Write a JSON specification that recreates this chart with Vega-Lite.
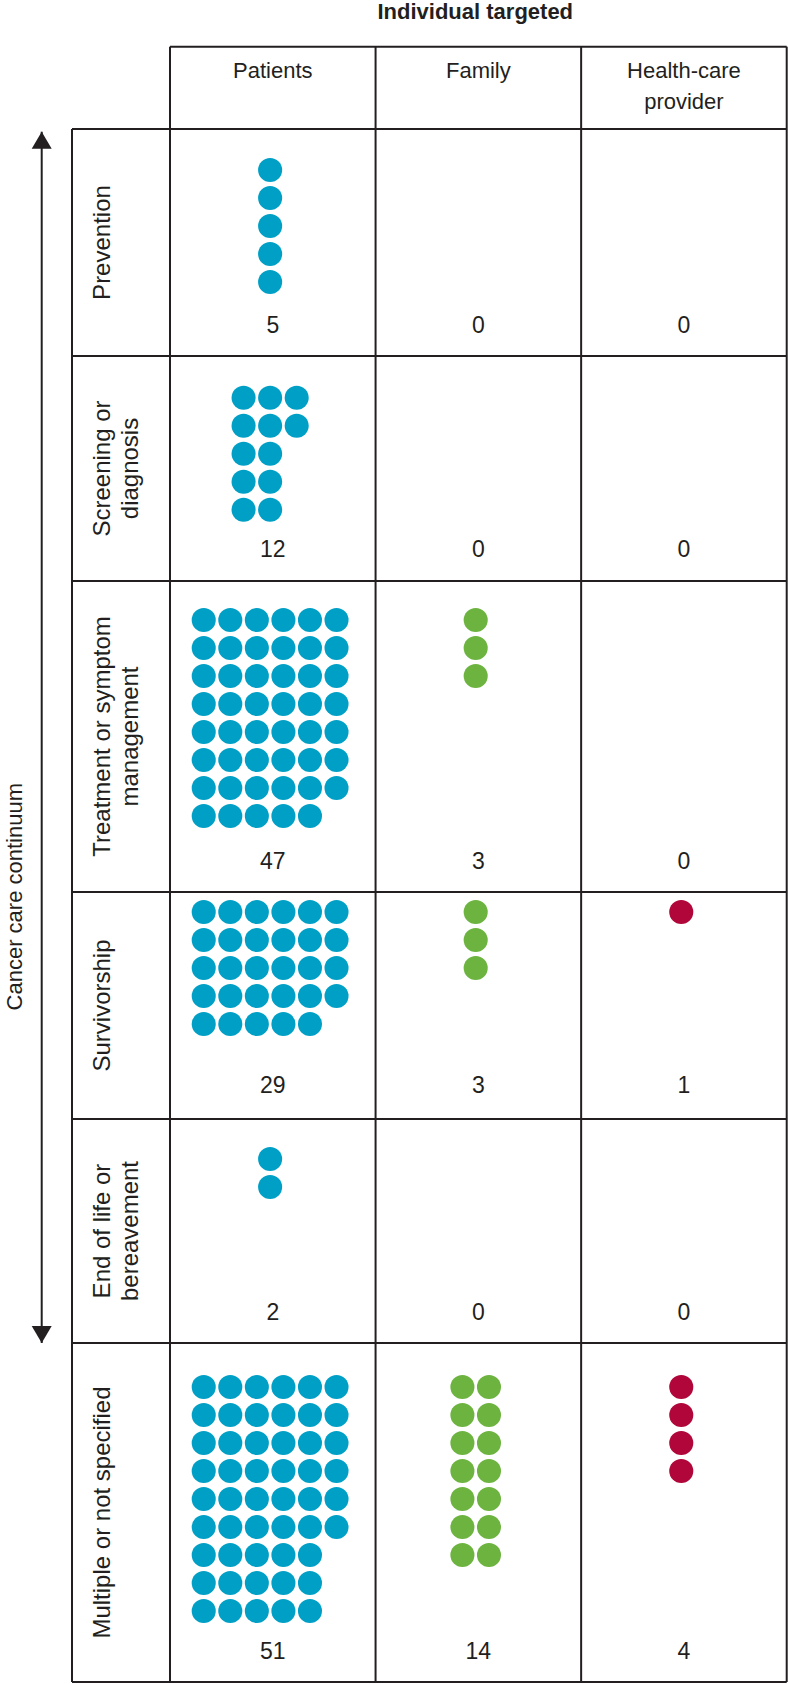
{
  "$schema": "https://vega.github.io/schema/vega-lite/v6.json",
  "padding": 0,
  "spacing": 0,
  "bounds": "flush",
  "background": "white",
  "config": {
    "view": {"stroke": null},
    "axis": {"disable": true},
    "legend": {"disable": true},
    "concat": {"spacing": 0},
    "text": {"font": "Liberation Sans", "color": "#231f20", "fontSize": 22},
    "rule": {"color": "#231f20", "strokeWidth": 2}
  },
  "datasets": {
    "targets": [{"target": "Patients"}, {"target": "Family"}, {"target": "Health-care provider"}],
    "counts": [
      {"stage": "Prevention", "target": "Patients", "n": 5},
      {"stage": "Prevention", "target": "Family", "n": 0},
      {"stage": "Prevention", "target": "Health-care provider", "n": 0},
      {"stage": "Screening or diagnosis", "target": "Patients", "n": 12},
      {"stage": "Screening or diagnosis", "target": "Family", "n": 0},
      {"stage": "Screening or diagnosis", "target": "Health-care provider", "n": 0},
      {"stage": "Treatment or symptom management", "target": "Patients", "n": 47},
      {"stage": "Treatment or symptom management", "target": "Family", "n": 3},
      {"stage": "Treatment or symptom management", "target": "Health-care provider", "n": 0},
      {"stage": "Survivorship", "target": "Patients", "n": 29},
      {"stage": "Survivorship", "target": "Family", "n": 3},
      {"stage": "Survivorship", "target": "Health-care provider", "n": 1},
      {"stage": "End of life or bereavement", "target": "Patients", "n": 2},
      {"stage": "End of life or bereavement", "target": "Family", "n": 0},
      {"stage": "End of life or bereavement", "target": "Health-care provider", "n": 0},
      {"stage": "Multiple or not specified", "target": "Patients", "n": 51},
      {"stage": "Multiple or not specified", "target": "Family", "n": 14},
      {"stage": "Multiple or not specified", "target": "Health-care provider", "n": 4}
    ],
    "dots": [
      {"stage": "Prevention", "target": "Patients", "col": 0, "row": 0},
      {"stage": "Prevention", "target": "Patients", "col": 0, "row": 1},
      {"stage": "Prevention", "target": "Patients", "col": 0, "row": 2},
      {"stage": "Prevention", "target": "Patients", "col": 0, "row": 3},
      {"stage": "Prevention", "target": "Patients", "col": 0, "row": 4},

      {"stage": "Screening or diagnosis", "target": "Patients", "col": -1, "row": 0},
      {"stage": "Screening or diagnosis", "target": "Patients", "col": 0, "row": 0},
      {"stage": "Screening or diagnosis", "target": "Patients", "col": 1, "row": 0},
      {"stage": "Screening or diagnosis", "target": "Patients", "col": -1, "row": 1},
      {"stage": "Screening or diagnosis", "target": "Patients", "col": 0, "row": 1},
      {"stage": "Screening or diagnosis", "target": "Patients", "col": 1, "row": 1},
      {"stage": "Screening or diagnosis", "target": "Patients", "col": -1, "row": 2},
      {"stage": "Screening or diagnosis", "target": "Patients", "col": 0, "row": 2},
      {"stage": "Screening or diagnosis", "target": "Patients", "col": -1, "row": 3},
      {"stage": "Screening or diagnosis", "target": "Patients", "col": 0, "row": 3},
      {"stage": "Screening or diagnosis", "target": "Patients", "col": -1, "row": 4},
      {"stage": "Screening or diagnosis", "target": "Patients", "col": 0, "row": 4},

      {"stage": "Treatment or symptom management", "target": "Patients", "col": -2.5, "row": 0},
      {"stage": "Treatment or symptom management", "target": "Patients", "col": -1.5, "row": 0},
      {"stage": "Treatment or symptom management", "target": "Patients", "col": -0.5, "row": 0},
      {"stage": "Treatment or symptom management", "target": "Patients", "col": 0.5, "row": 0},
      {"stage": "Treatment or symptom management", "target": "Patients", "col": 1.5, "row": 0},
      {"stage": "Treatment or symptom management", "target": "Patients", "col": 2.5, "row": 0},
      {"stage": "Treatment or symptom management", "target": "Patients", "col": -2.5, "row": 1},
      {"stage": "Treatment or symptom management", "target": "Patients", "col": -1.5, "row": 1},
      {"stage": "Treatment or symptom management", "target": "Patients", "col": -0.5, "row": 1},
      {"stage": "Treatment or symptom management", "target": "Patients", "col": 0.5, "row": 1},
      {"stage": "Treatment or symptom management", "target": "Patients", "col": 1.5, "row": 1},
      {"stage": "Treatment or symptom management", "target": "Patients", "col": 2.5, "row": 1},
      {"stage": "Treatment or symptom management", "target": "Patients", "col": -2.5, "row": 2},
      {"stage": "Treatment or symptom management", "target": "Patients", "col": -1.5, "row": 2},
      {"stage": "Treatment or symptom management", "target": "Patients", "col": -0.5, "row": 2},
      {"stage": "Treatment or symptom management", "target": "Patients", "col": 0.5, "row": 2},
      {"stage": "Treatment or symptom management", "target": "Patients", "col": 1.5, "row": 2},
      {"stage": "Treatment or symptom management", "target": "Patients", "col": 2.5, "row": 2},
      {"stage": "Treatment or symptom management", "target": "Patients", "col": -2.5, "row": 3},
      {"stage": "Treatment or symptom management", "target": "Patients", "col": -1.5, "row": 3},
      {"stage": "Treatment or symptom management", "target": "Patients", "col": -0.5, "row": 3},
      {"stage": "Treatment or symptom management", "target": "Patients", "col": 0.5, "row": 3},
      {"stage": "Treatment or symptom management", "target": "Patients", "col": 1.5, "row": 3},
      {"stage": "Treatment or symptom management", "target": "Patients", "col": 2.5, "row": 3},
      {"stage": "Treatment or symptom management", "target": "Patients", "col": -2.5, "row": 4},
      {"stage": "Treatment or symptom management", "target": "Patients", "col": -1.5, "row": 4},
      {"stage": "Treatment or symptom management", "target": "Patients", "col": -0.5, "row": 4},
      {"stage": "Treatment or symptom management", "target": "Patients", "col": 0.5, "row": 4},
      {"stage": "Treatment or symptom management", "target": "Patients", "col": 1.5, "row": 4},
      {"stage": "Treatment or symptom management", "target": "Patients", "col": 2.5, "row": 4},
      {"stage": "Treatment or symptom management", "target": "Patients", "col": -2.5, "row": 5},
      {"stage": "Treatment or symptom management", "target": "Patients", "col": -1.5, "row": 5},
      {"stage": "Treatment or symptom management", "target": "Patients", "col": -0.5, "row": 5},
      {"stage": "Treatment or symptom management", "target": "Patients", "col": 0.5, "row": 5},
      {"stage": "Treatment or symptom management", "target": "Patients", "col": 1.5, "row": 5},
      {"stage": "Treatment or symptom management", "target": "Patients", "col": 2.5, "row": 5},
      {"stage": "Treatment or symptom management", "target": "Patients", "col": -2.5, "row": 6},
      {"stage": "Treatment or symptom management", "target": "Patients", "col": -1.5, "row": 6},
      {"stage": "Treatment or symptom management", "target": "Patients", "col": -0.5, "row": 6},
      {"stage": "Treatment or symptom management", "target": "Patients", "col": 0.5, "row": 6},
      {"stage": "Treatment or symptom management", "target": "Patients", "col": 1.5, "row": 6},
      {"stage": "Treatment or symptom management", "target": "Patients", "col": 2.5, "row": 6},
      {"stage": "Treatment or symptom management", "target": "Patients", "col": -2.5, "row": 7},
      {"stage": "Treatment or symptom management", "target": "Patients", "col": -1.5, "row": 7},
      {"stage": "Treatment or symptom management", "target": "Patients", "col": -0.5, "row": 7},
      {"stage": "Treatment or symptom management", "target": "Patients", "col": 0.5, "row": 7},
      {"stage": "Treatment or symptom management", "target": "Patients", "col": 1.5, "row": 7},
      {"stage": "Treatment or symptom management", "target": "Family", "col": 0, "row": 0},
      {"stage": "Treatment or symptom management", "target": "Family", "col": 0, "row": 1},
      {"stage": "Treatment or symptom management", "target": "Family", "col": 0, "row": 2},

      {"stage": "Survivorship", "target": "Patients", "col": -2.5, "row": 0},
      {"stage": "Survivorship", "target": "Patients", "col": -1.5, "row": 0},
      {"stage": "Survivorship", "target": "Patients", "col": -0.5, "row": 0},
      {"stage": "Survivorship", "target": "Patients", "col": 0.5, "row": 0},
      {"stage": "Survivorship", "target": "Patients", "col": 1.5, "row": 0},
      {"stage": "Survivorship", "target": "Patients", "col": 2.5, "row": 0},
      {"stage": "Survivorship", "target": "Patients", "col": -2.5, "row": 1},
      {"stage": "Survivorship", "target": "Patients", "col": -1.5, "row": 1},
      {"stage": "Survivorship", "target": "Patients", "col": -0.5, "row": 1},
      {"stage": "Survivorship", "target": "Patients", "col": 0.5, "row": 1},
      {"stage": "Survivorship", "target": "Patients", "col": 1.5, "row": 1},
      {"stage": "Survivorship", "target": "Patients", "col": 2.5, "row": 1},
      {"stage": "Survivorship", "target": "Patients", "col": -2.5, "row": 2},
      {"stage": "Survivorship", "target": "Patients", "col": -1.5, "row": 2},
      {"stage": "Survivorship", "target": "Patients", "col": -0.5, "row": 2},
      {"stage": "Survivorship", "target": "Patients", "col": 0.5, "row": 2},
      {"stage": "Survivorship", "target": "Patients", "col": 1.5, "row": 2},
      {"stage": "Survivorship", "target": "Patients", "col": 2.5, "row": 2},
      {"stage": "Survivorship", "target": "Patients", "col": -2.5, "row": 3},
      {"stage": "Survivorship", "target": "Patients", "col": -1.5, "row": 3},
      {"stage": "Survivorship", "target": "Patients", "col": -0.5, "row": 3},
      {"stage": "Survivorship", "target": "Patients", "col": 0.5, "row": 3},
      {"stage": "Survivorship", "target": "Patients", "col": 1.5, "row": 3},
      {"stage": "Survivorship", "target": "Patients", "col": 2.5, "row": 3},
      {"stage": "Survivorship", "target": "Patients", "col": -2.5, "row": 4},
      {"stage": "Survivorship", "target": "Patients", "col": -1.5, "row": 4},
      {"stage": "Survivorship", "target": "Patients", "col": -0.5, "row": 4},
      {"stage": "Survivorship", "target": "Patients", "col": 0.5, "row": 4},
      {"stage": "Survivorship", "target": "Patients", "col": 1.5, "row": 4},
      {"stage": "Survivorship", "target": "Family", "col": 0, "row": 0},
      {"stage": "Survivorship", "target": "Family", "col": 0, "row": 1},
      {"stage": "Survivorship", "target": "Family", "col": 0, "row": 2},
      {"stage": "Survivorship", "target": "Health-care provider", "col": 0, "row": 0},

      {"stage": "End of life or bereavement", "target": "Patients", "col": 0, "row": 0},
      {"stage": "End of life or bereavement", "target": "Patients", "col": 0, "row": 1},

      {"stage": "Multiple or not specified", "target": "Patients", "col": -2.5, "row": 0},
      {"stage": "Multiple or not specified", "target": "Patients", "col": -1.5, "row": 0},
      {"stage": "Multiple or not specified", "target": "Patients", "col": -0.5, "row": 0},
      {"stage": "Multiple or not specified", "target": "Patients", "col": 0.5, "row": 0},
      {"stage": "Multiple or not specified", "target": "Patients", "col": 1.5, "row": 0},
      {"stage": "Multiple or not specified", "target": "Patients", "col": 2.5, "row": 0},
      {"stage": "Multiple or not specified", "target": "Patients", "col": -2.5, "row": 1},
      {"stage": "Multiple or not specified", "target": "Patients", "col": -1.5, "row": 1},
      {"stage": "Multiple or not specified", "target": "Patients", "col": -0.5, "row": 1},
      {"stage": "Multiple or not specified", "target": "Patients", "col": 0.5, "row": 1},
      {"stage": "Multiple or not specified", "target": "Patients", "col": 1.5, "row": 1},
      {"stage": "Multiple or not specified", "target": "Patients", "col": 2.5, "row": 1},
      {"stage": "Multiple or not specified", "target": "Patients", "col": -2.5, "row": 2},
      {"stage": "Multiple or not specified", "target": "Patients", "col": -1.5, "row": 2},
      {"stage": "Multiple or not specified", "target": "Patients", "col": -0.5, "row": 2},
      {"stage": "Multiple or not specified", "target": "Patients", "col": 0.5, "row": 2},
      {"stage": "Multiple or not specified", "target": "Patients", "col": 1.5, "row": 2},
      {"stage": "Multiple or not specified", "target": "Patients", "col": 2.5, "row": 2},
      {"stage": "Multiple or not specified", "target": "Patients", "col": -2.5, "row": 3},
      {"stage": "Multiple or not specified", "target": "Patients", "col": -1.5, "row": 3},
      {"stage": "Multiple or not specified", "target": "Patients", "col": -0.5, "row": 3},
      {"stage": "Multiple or not specified", "target": "Patients", "col": 0.5, "row": 3},
      {"stage": "Multiple or not specified", "target": "Patients", "col": 1.5, "row": 3},
      {"stage": "Multiple or not specified", "target": "Patients", "col": 2.5, "row": 3},
      {"stage": "Multiple or not specified", "target": "Patients", "col": -2.5, "row": 4},
      {"stage": "Multiple or not specified", "target": "Patients", "col": -1.5, "row": 4},
      {"stage": "Multiple or not specified", "target": "Patients", "col": -0.5, "row": 4},
      {"stage": "Multiple or not specified", "target": "Patients", "col": 0.5, "row": 4},
      {"stage": "Multiple or not specified", "target": "Patients", "col": 1.5, "row": 4},
      {"stage": "Multiple or not specified", "target": "Patients", "col": 2.5, "row": 4},
      {"stage": "Multiple or not specified", "target": "Patients", "col": -2.5, "row": 5},
      {"stage": "Multiple or not specified", "target": "Patients", "col": -1.5, "row": 5},
      {"stage": "Multiple or not specified", "target": "Patients", "col": -0.5, "row": 5},
      {"stage": "Multiple or not specified", "target": "Patients", "col": 0.5, "row": 5},
      {"stage": "Multiple or not specified", "target": "Patients", "col": 1.5, "row": 5},
      {"stage": "Multiple or not specified", "target": "Patients", "col": 2.5, "row": 5},
      {"stage": "Multiple or not specified", "target": "Patients", "col": -2.5, "row": 6},
      {"stage": "Multiple or not specified", "target": "Patients", "col": -1.5, "row": 6},
      {"stage": "Multiple or not specified", "target": "Patients", "col": -0.5, "row": 6},
      {"stage": "Multiple or not specified", "target": "Patients", "col": 0.5, "row": 6},
      {"stage": "Multiple or not specified", "target": "Patients", "col": 1.5, "row": 6},
      {"stage": "Multiple or not specified", "target": "Patients", "col": -2.5, "row": 7},
      {"stage": "Multiple or not specified", "target": "Patients", "col": -1.5, "row": 7},
      {"stage": "Multiple or not specified", "target": "Patients", "col": -0.5, "row": 7},
      {"stage": "Multiple or not specified", "target": "Patients", "col": 0.5, "row": 7},
      {"stage": "Multiple or not specified", "target": "Patients", "col": 1.5, "row": 7},
      {"stage": "Multiple or not specified", "target": "Patients", "col": -2.5, "row": 8},
      {"stage": "Multiple or not specified", "target": "Patients", "col": -1.5, "row": 8},
      {"stage": "Multiple or not specified", "target": "Patients", "col": -0.5, "row": 8},
      {"stage": "Multiple or not specified", "target": "Patients", "col": 0.5, "row": 8},
      {"stage": "Multiple or not specified", "target": "Patients", "col": 1.5, "row": 8},
      {"stage": "Multiple or not specified", "target": "Family", "col": -0.5, "row": 0},
      {"stage": "Multiple or not specified", "target": "Family", "col": 0.5, "row": 0},
      {"stage": "Multiple or not specified", "target": "Family", "col": -0.5, "row": 1},
      {"stage": "Multiple or not specified", "target": "Family", "col": 0.5, "row": 1},
      {"stage": "Multiple or not specified", "target": "Family", "col": -0.5, "row": 2},
      {"stage": "Multiple or not specified", "target": "Family", "col": 0.5, "row": 2},
      {"stage": "Multiple or not specified", "target": "Family", "col": -0.5, "row": 3},
      {"stage": "Multiple or not specified", "target": "Family", "col": 0.5, "row": 3},
      {"stage": "Multiple or not specified", "target": "Family", "col": -0.5, "row": 4},
      {"stage": "Multiple or not specified", "target": "Family", "col": 0.5, "row": 4},
      {"stage": "Multiple or not specified", "target": "Family", "col": -0.5, "row": 5},
      {"stage": "Multiple or not specified", "target": "Family", "col": 0.5, "row": 5},
      {"stage": "Multiple or not specified", "target": "Family", "col": -0.5, "row": 6},
      {"stage": "Multiple or not specified", "target": "Family", "col": 0.5, "row": 6},
      {"stage": "Multiple or not specified", "target": "Health-care provider", "col": 0, "row": 0},
      {"stage": "Multiple or not specified", "target": "Health-care provider", "col": 0, "row": 1},
      {"stage": "Multiple or not specified", "target": "Health-care provider", "col": 0, "row": 2},
      {"stage": "Multiple or not specified", "target": "Health-care provider", "col": 0, "row": 3}
    ]
  },
  "vconcat": [
    {
      "width": 788, "height": 129,
      "data": {"values": [{}]},
      "resolve": {"scale": {"x": "independent"}},
      "layer": [
        {"mark": {"type": "text", "fontWeight": "bold", "align": "center", "baseline": "middle"},
         "encoding": {"x": {"datum": 1.485, "type": "quantitative", "scale": {"domain": [-0.82697, 3.00628], "nice": false, "zero": false}},
                      "y": {"datum": 0.42143, "type": "quantitative", "scale": {"domain": [0, 4.60714], "reverse": true, "nice": false, "zero": false}},
                      "text": {"value": "Individual targeted"}}},
        {"mark": "rule",
         "encoding": {"x": {"datum": 0, "type": "quantitative", "scale": {"domain": [-0.82697, 3.00628], "nice": false, "zero": false}},
                      "x2": {"datum": 3},
                      "y": {"datum": 1.66786, "type": "quantitative", "scale": {"domain": [0, 4.60714], "reverse": true, "nice": false, "zero": false}}}},
        {"mark": "rule",
         "encoding": {"x": {"datum": 0, "type": "quantitative", "scale": {"domain": [-0.82697, 3.00628], "nice": false, "zero": false}},
                      "y": {"datum": 1.66786, "type": "quantitative", "scale": {"domain": [0, 4.60714], "reverse": true, "nice": false, "zero": false}},
                      "y2": {"datum": 4.60714}}},
        {"mark": "rule",
         "encoding": {"x": {"datum": 1, "type": "quantitative", "scale": {"domain": [-0.82697, 3.00628], "nice": false, "zero": false}},
                      "y": {"datum": 1.66786, "type": "quantitative", "scale": {"domain": [0, 4.60714], "reverse": true, "nice": false, "zero": false}},
                      "y2": {"datum": 4.60714}}},
        {"mark": "rule",
         "encoding": {"x": {"datum": 2, "type": "quantitative", "scale": {"domain": [-0.82697, 3.00628], "nice": false, "zero": false}},
                      "y": {"datum": 1.66786, "type": "quantitative", "scale": {"domain": [0, 4.60714], "reverse": true, "nice": false, "zero": false}},
                      "y2": {"datum": 4.60714}}},
        {"mark": "rule",
         "encoding": {"x": {"datum": 3, "type": "quantitative", "scale": {"domain": [-0.82697, 3.00628], "nice": false, "zero": false}},
                      "y": {"datum": 1.66786, "type": "quantitative", "scale": {"domain": [0, 4.60714], "reverse": true, "nice": false, "zero": false}},
                      "y2": {"datum": 4.60714}}},
        {"data": {"name": "targets"},
         "mark": {"type": "text", "align": "center", "baseline": "top", "lineBreak": " ", "lineHeight": 31},
         "encoding": {"x": {"field": "target", "type": "nominal", "scale": {"type": "band", "domain": ["Patients", "Family", "Health-care provider"], "paddingInner": 0, "paddingOuter": 0.41665, "align": 0.99241}},
                      "y": {"datum": 2.18214, "type": "quantitative", "scale": {"domain": [0, 4.60714], "reverse": true, "nice": false, "zero": false}},
                      "text": {"field": "target"}}}
      ]
    },
    {
      "width": 788, "height": 227,
      "data": {"values": [{}]},
      "resolve": {"scale": {"x": "independent"}},
      "layer": [
        {"mark": "rule", "encoding": {"x": {"datum": -0.4767, "type": "quantitative", "scale": {"domain": [-0.82697, 3.00628], "nice": false, "zero": false}}}},
        {"mark": "rule", "encoding": {"x": {"datum": 0, "type": "quantitative", "scale": {"domain": [-0.82697, 3.00628], "nice": false, "zero": false}}}},
        {"mark": "rule", "encoding": {"x": {"datum": 1, "type": "quantitative", "scale": {"domain": [-0.82697, 3.00628], "nice": false, "zero": false}}}},
        {"mark": "rule", "encoding": {"x": {"datum": 2, "type": "quantitative", "scale": {"domain": [-0.82697, 3.00628], "nice": false, "zero": false}}}},
        {"mark": "rule", "encoding": {"x": {"datum": 3, "type": "quantitative", "scale": {"domain": [-0.82697, 3.00628], "nice": false, "zero": false}}}},
        {"mark": "rule",
         "encoding": {"x": {"datum": -0.4767, "type": "quantitative", "scale": {"domain": [-0.82697, 3.00628], "nice": false, "zero": false}},
                      "x2": {"datum": 3},
                      "y": {"datum": -1.46429, "type": "quantitative", "scale": {"domain": [-1.46429, 6.64286], "reverse": true, "nice": false, "zero": false}}}},
        {"mark": "rule",
         "encoding": {"x": {"datum": -0.6241, "type": "quantitative", "scale": {"domain": [-0.82697, 3.00628], "nice": false, "zero": false}},
                      "y": {"datum": -1.36786, "type": "quantitative", "scale": {"domain": [-1.46429, 6.64286], "reverse": true, "nice": false, "zero": false}},
                      "y2": {"datum": 6.64286}}},
        {"mark": {"type": "point", "shape": "M0,-0.85L1,0.85L-1,0.85Z", "size": 400, "filled": true, "color": "#231f20", "opacity": 1, "strokeWidth": 0},
         "encoding": {"x": {"datum": -0.6241, "type": "quantitative", "scale": {"domain": [-0.82697, 3.00628], "nice": false, "zero": false}},
                      "y": {"datum": -1.06429, "type": "quantitative", "scale": {"domain": [-1.46429, 6.64286], "reverse": true, "nice": false, "zero": false}}}},
        {"mark": {"type": "text", "angle": 270, "align": "center", "baseline": "top", "fontSize": 24, "lineHeight": 28},
         "encoding": {"x": {"datum": -0.3867, "type": "quantitative", "scale": {"domain": [-0.82697, 3.00628], "nice": false, "zero": false}},
                      "text": {"value": "Prevention"}}},
        {"data": {"name": "dots"},
         "transform": [{"filter": {"field": "stage", "equal": "Prevention"}}],
         "mark": {"type": "circle", "size": 580, "opacity": 1},
         "encoding": {"x": {"field": "target", "type": "nominal", "scale": {"type": "band", "domain": ["Patients", "Family", "Health-care provider"], "paddingInner": 0, "paddingOuter": 0.41665, "align": 0.99241}},
                      "xOffset": {"field": "col", "type": "quantitative", "scale": {"domain": [-3.77, 3.97], "nice": false, "zero": false}},
                      "y": {"field": "row", "type": "quantitative", "scale": {"domain": [-1.46429, 6.64286], "reverse": true, "nice": false, "zero": false}},
                      "color": {"field": "target", "type": "nominal", "scale": {"domain": ["Patients", "Family", "Health-care provider"], "range": ["#00a0c6", "#6db33f", "#b0063a"]}, "legend": null}}},
        {"data": {"name": "counts"},
         "transform": [{"filter": {"field": "stage", "equal": "Prevention"}}],
         "mark": {"type": "text", "align": "center", "baseline": "middle", "fontSize": 23},
         "encoding": {"x": {"field": "target", "type": "nominal", "scale": {"type": "band", "domain": ["Patients", "Family", "Health-care provider"], "paddingInner": 0, "paddingOuter": 0.41665, "align": 0.99241}},
                      "y": {"datum": 5.58214, "type": "quantitative", "scale": {"domain": [-1.46429, 6.64286], "reverse": true, "nice": false, "zero": false}},
                      "text": {"field": "n", "type": "quantitative"}}}
      ]
    },
    {
      "width": 788, "height": 225,
      "data": {"values": [{}]},
      "resolve": {"scale": {"x": "independent"}},
      "layer": [
        {"mark": "rule", "encoding": {"x": {"datum": -0.4767, "type": "quantitative", "scale": {"domain": [-0.82697, 3.00628], "nice": false, "zero": false}}}},
        {"mark": "rule", "encoding": {"x": {"datum": 0, "type": "quantitative", "scale": {"domain": [-0.82697, 3.00628], "nice": false, "zero": false}}}},
        {"mark": "rule", "encoding": {"x": {"datum": 1, "type": "quantitative", "scale": {"domain": [-0.82697, 3.00628], "nice": false, "zero": false}}}},
        {"mark": "rule", "encoding": {"x": {"datum": 2, "type": "quantitative", "scale": {"domain": [-0.82697, 3.00628], "nice": false, "zero": false}}}},
        {"mark": "rule", "encoding": {"x": {"datum": 3, "type": "quantitative", "scale": {"domain": [-0.82697, 3.00628], "nice": false, "zero": false}}}},
        {"mark": "rule", "encoding": {"x": {"datum": -0.6241, "type": "quantitative", "scale": {"domain": [-0.82697, 3.00628], "nice": false, "zero": false}}}},
        {"mark": "rule",
         "encoding": {"x": {"datum": -0.4767, "type": "quantitative", "scale": {"domain": [-0.82697, 3.00628], "nice": false, "zero": false}},
                      "x2": {"datum": 3},
                      "y": {"datum": -1.48929, "type": "quantitative", "scale": {"domain": [-1.48929, 6.54643], "reverse": true, "nice": false, "zero": false}}}},
        {"mark": {"type": "text", "angle": 270, "align": "center", "baseline": "top", "fontSize": 24, "lineHeight": 28},
         "encoding": {"x": {"datum": -0.3867, "type": "quantitative", "scale": {"domain": [-0.82697, 3.00628], "nice": false, "zero": false}},
                      "text": {"value": ["Screening or", "diagnosis"]}}},
        {"data": {"name": "dots"},
         "transform": [{"filter": {"field": "stage", "equal": "Screening or diagnosis"}}],
         "mark": {"type": "circle", "size": 580, "opacity": 1},
         "encoding": {"x": {"field": "target", "type": "nominal", "scale": {"type": "band", "domain": ["Patients", "Family", "Health-care provider"], "paddingInner": 0, "paddingOuter": 0.41665, "align": 0.99241}},
                      "xOffset": {"field": "col", "type": "quantitative", "scale": {"domain": [-3.77, 3.97], "nice": false, "zero": false}},
                      "y": {"field": "row", "type": "quantitative", "scale": {"domain": [-1.48929, 6.54643], "reverse": true, "nice": false, "zero": false}},
                      "color": {"field": "target", "type": "nominal", "scale": {"domain": ["Patients", "Family", "Health-care provider"], "range": ["#00a0c6", "#6db33f", "#b0063a"]}, "legend": null}}},
        {"data": {"name": "counts"},
         "transform": [{"filter": {"field": "stage", "equal": "Screening or diagnosis"}}],
         "mark": {"type": "text", "align": "center", "baseline": "middle", "fontSize": 23},
         "encoding": {"x": {"field": "target", "type": "nominal", "scale": {"type": "band", "domain": ["Patients", "Family", "Health-care provider"], "paddingInner": 0, "paddingOuter": 0.41665, "align": 0.99241}},
                      "y": {"datum": 5.425, "type": "quantitative", "scale": {"domain": [-1.48929, 6.54643], "reverse": true, "nice": false, "zero": false}},
                      "text": {"field": "n", "type": "quantitative"}}}
      ]
    },
    {
      "width": 788, "height": 311,
      "data": {"values": [{}]},
      "resolve": {"scale": {"x": "independent"}},
      "layer": [
        {"mark": "rule", "encoding": {"x": {"datum": -0.4767, "type": "quantitative", "scale": {"domain": [-0.82697, 3.00628], "nice": false, "zero": false}}}},
        {"mark": "rule", "encoding": {"x": {"datum": 0, "type": "quantitative", "scale": {"domain": [-0.82697, 3.00628], "nice": false, "zero": false}}}},
        {"mark": "rule", "encoding": {"x": {"datum": 1, "type": "quantitative", "scale": {"domain": [-0.82697, 3.00628], "nice": false, "zero": false}}}},
        {"mark": "rule", "encoding": {"x": {"datum": 2, "type": "quantitative", "scale": {"domain": [-0.82697, 3.00628], "nice": false, "zero": false}}}},
        {"mark": "rule", "encoding": {"x": {"datum": 3, "type": "quantitative", "scale": {"domain": [-0.82697, 3.00628], "nice": false, "zero": false}}}},
        {"mark": "rule", "encoding": {"x": {"datum": -0.6241, "type": "quantitative", "scale": {"domain": [-0.82697, 3.00628], "nice": false, "zero": false}}}},
        {"mark": "rule",
         "encoding": {"x": {"datum": -0.4767, "type": "quantitative", "scale": {"domain": [-0.82697, 3.00628], "nice": false, "zero": false}},
                      "x2": {"datum": 3},
                      "y": {"datum": -1.39286, "type": "quantitative", "scale": {"domain": [-1.39286, 9.71429], "reverse": true, "nice": false, "zero": false}}}},
        {"mark": {"type": "text", "angle": 270, "align": "center", "baseline": "top", "fontSize": 24, "lineHeight": 28},
         "encoding": {"x": {"datum": -0.3867, "type": "quantitative", "scale": {"domain": [-0.82697, 3.00628], "nice": false, "zero": false}},
                      "text": {"value": ["Treatment or symptom", "management"]}}},
        {"data": {"name": "dots"},
         "transform": [{"filter": {"field": "stage", "equal": "Treatment or symptom management"}}],
         "mark": {"type": "circle", "size": 580, "opacity": 1},
         "encoding": {"x": {"field": "target", "type": "nominal", "scale": {"type": "band", "domain": ["Patients", "Family", "Health-care provider"], "paddingInner": 0, "paddingOuter": 0.41665, "align": 0.99241}},
                      "xOffset": {"field": "col", "type": "quantitative", "scale": {"domain": [-3.77, 3.97], "nice": false, "zero": false}},
                      "y": {"field": "row", "type": "quantitative", "scale": {"domain": [-1.39286, 9.71429], "reverse": true, "nice": false, "zero": false}},
                      "color": {"field": "target", "type": "nominal", "scale": {"domain": ["Patients", "Family", "Health-care provider"], "range": ["#00a0c6", "#6db33f", "#b0063a"]}, "legend": null}}},
        {"data": {"name": "counts"},
         "transform": [{"filter": {"field": "stage", "equal": "Treatment or symptom management"}}],
         "mark": {"type": "text", "align": "center", "baseline": "middle", "fontSize": 23},
         "encoding": {"x": {"field": "target", "type": "nominal", "scale": {"type": "band", "domain": ["Patients", "Family", "Health-care provider"], "paddingInner": 0, "paddingOuter": 0.41665, "align": 0.99241}},
                      "y": {"datum": 8.62857, "type": "quantitative", "scale": {"domain": [-1.39286, 9.71429], "reverse": true, "nice": false, "zero": false}},
                      "text": {"field": "n", "type": "quantitative"}}}
      ]
    },
    {
      "width": 788, "height": 227,
      "data": {"values": [{}]},
      "resolve": {"scale": {"x": "independent"}},
      "layer": [
        {"mark": "rule", "encoding": {"x": {"datum": -0.4767, "type": "quantitative", "scale": {"domain": [-0.82697, 3.00628], "nice": false, "zero": false}}}},
        {"mark": "rule", "encoding": {"x": {"datum": 0, "type": "quantitative", "scale": {"domain": [-0.82697, 3.00628], "nice": false, "zero": false}}}},
        {"mark": "rule", "encoding": {"x": {"datum": 1, "type": "quantitative", "scale": {"domain": [-0.82697, 3.00628], "nice": false, "zero": false}}}},
        {"mark": "rule", "encoding": {"x": {"datum": 2, "type": "quantitative", "scale": {"domain": [-0.82697, 3.00628], "nice": false, "zero": false}}}},
        {"mark": "rule", "encoding": {"x": {"datum": 3, "type": "quantitative", "scale": {"domain": [-0.82697, 3.00628], "nice": false, "zero": false}}}},
        {"mark": "rule", "encoding": {"x": {"datum": -0.6241, "type": "quantitative", "scale": {"domain": [-0.82697, 3.00628], "nice": false, "zero": false}}}},
        {"mark": "rule",
         "encoding": {"x": {"datum": -0.4767, "type": "quantitative", "scale": {"domain": [-0.82697, 3.00628], "nice": false, "zero": false}},
                      "x2": {"datum": 3},
                      "y": {"datum": -0.71429, "type": "quantitative", "scale": {"domain": [-0.71429, 7.39286], "reverse": true, "nice": false, "zero": false}}}},
        {"mark": {"type": "text", "angle": 270, "align": "center", "baseline": "middle", "fontSize": 22},
         "encoding": {"x": {"datum": -0.754, "type": "quantitative", "scale": {"domain": [-0.82697, 3.00628], "nice": false, "zero": false}},
                      "y": {"datum": -0.54643, "type": "quantitative", "scale": {"domain": [-0.71429, 7.39286], "reverse": true, "nice": false, "zero": false}},
                      "text": {"value": "Cancer care continuum"}}},
        {"mark": {"type": "text", "angle": 270, "align": "center", "baseline": "top", "fontSize": 24, "lineHeight": 28},
         "encoding": {"x": {"datum": -0.3867, "type": "quantitative", "scale": {"domain": [-0.82697, 3.00628], "nice": false, "zero": false}},
                      "text": {"value": "Survivorship"}}},
        {"data": {"name": "dots"},
         "transform": [{"filter": {"field": "stage", "equal": "Survivorship"}}],
         "mark": {"type": "circle", "size": 580, "opacity": 1},
         "encoding": {"x": {"field": "target", "type": "nominal", "scale": {"type": "band", "domain": ["Patients", "Family", "Health-care provider"], "paddingInner": 0, "paddingOuter": 0.41665, "align": 0.99241}},
                      "xOffset": {"field": "col", "type": "quantitative", "scale": {"domain": [-3.77, 3.97], "nice": false, "zero": false}},
                      "y": {"field": "row", "type": "quantitative", "scale": {"domain": [-0.71429, 7.39286], "reverse": true, "nice": false, "zero": false}},
                      "color": {"field": "target", "type": "nominal", "scale": {"domain": ["Patients", "Family", "Health-care provider"], "range": ["#00a0c6", "#6db33f", "#b0063a"]}, "legend": null}}},
        {"data": {"name": "counts"},
         "transform": [{"filter": {"field": "stage", "equal": "Survivorship"}}],
         "mark": {"type": "text", "align": "center", "baseline": "middle", "fontSize": 23},
         "encoding": {"x": {"field": "target", "type": "nominal", "scale": {"type": "band", "domain": ["Patients", "Family", "Health-care provider"], "paddingInner": 0, "paddingOuter": 0.41665, "align": 0.99241}},
                      "y": {"datum": 6.225, "type": "quantitative", "scale": {"domain": [-0.71429, 7.39286], "reverse": true, "nice": false, "zero": false}},
                      "text": {"field": "n", "type": "quantitative"}}}
      ]
    },
    {
      "width": 788, "height": 224,
      "data": {"values": [{}]},
      "resolve": {"scale": {"x": "independent"}},
      "layer": [
        {"mark": "rule", "encoding": {"x": {"datum": -0.4767, "type": "quantitative", "scale": {"domain": [-0.82697, 3.00628], "nice": false, "zero": false}}}},
        {"mark": "rule", "encoding": {"x": {"datum": 0, "type": "quantitative", "scale": {"domain": [-0.82697, 3.00628], "nice": false, "zero": false}}}},
        {"mark": "rule", "encoding": {"x": {"datum": 1, "type": "quantitative", "scale": {"domain": [-0.82697, 3.00628], "nice": false, "zero": false}}}},
        {"mark": "rule", "encoding": {"x": {"datum": 2, "type": "quantitative", "scale": {"domain": [-0.82697, 3.00628], "nice": false, "zero": false}}}},
        {"mark": "rule", "encoding": {"x": {"datum": 3, "type": "quantitative", "scale": {"domain": [-0.82697, 3.00628], "nice": false, "zero": false}}}},
        {"mark": "rule", "encoding": {"x": {"datum": -0.6241, "type": "quantitative", "scale": {"domain": [-0.82697, 3.00628], "nice": false, "zero": false}}}},
        {"mark": "rule",
         "encoding": {"x": {"datum": -0.4767, "type": "quantitative", "scale": {"domain": [-0.82697, 3.00628], "nice": false, "zero": false}},
                      "x2": {"datum": 3},
                      "y": {"datum": -1.42857, "type": "quantitative", "scale": {"domain": [-1.42857, 6.57143], "reverse": true, "nice": false, "zero": false}}}},
        {"mark": {"type": "point", "shape": "M0,0.85L1,-0.85L-1,-0.85Z", "size": 400, "filled": true, "color": "#231f20", "opacity": 1, "strokeWidth": 0},
         "encoding": {"x": {"datum": -0.6241, "type": "quantitative", "scale": {"domain": [-0.82697, 3.00628], "nice": false, "zero": false}},
                      "y": {"datum": 6.26786, "type": "quantitative", "scale": {"domain": [-1.42857, 6.57143], "reverse": true, "nice": false, "zero": false}}}},
        {"mark": {"type": "text", "angle": 270, "align": "center", "baseline": "top", "fontSize": 24, "lineHeight": 28},
         "encoding": {"x": {"datum": -0.3867, "type": "quantitative", "scale": {"domain": [-0.82697, 3.00628], "nice": false, "zero": false}},
                      "text": {"value": ["End of life or", "bereavement"]}}},
        {"data": {"name": "dots"},
         "transform": [{"filter": {"field": "stage", "equal": "End of life or bereavement"}}],
         "mark": {"type": "circle", "size": 580, "opacity": 1},
         "encoding": {"x": {"field": "target", "type": "nominal", "scale": {"type": "band", "domain": ["Patients", "Family", "Health-care provider"], "paddingInner": 0, "paddingOuter": 0.41665, "align": 0.99241}},
                      "xOffset": {"field": "col", "type": "quantitative", "scale": {"domain": [-3.77, 3.97], "nice": false, "zero": false}},
                      "y": {"field": "row", "type": "quantitative", "scale": {"domain": [-1.42857, 6.57143], "reverse": true, "nice": false, "zero": false}},
                      "color": {"field": "target", "type": "nominal", "scale": {"domain": ["Patients", "Family", "Health-care provider"], "range": ["#00a0c6", "#6db33f", "#b0063a"]}, "legend": null}}},
        {"data": {"name": "counts"},
         "transform": [{"filter": {"field": "stage", "equal": "End of life or bereavement"}}],
         "mark": {"type": "text", "align": "center", "baseline": "middle", "fontSize": 23},
         "encoding": {"x": {"field": "target", "type": "nominal", "scale": {"type": "band", "domain": ["Patients", "Family", "Health-care provider"], "paddingInner": 0, "paddingOuter": 0.41665, "align": 0.99241}},
                      "y": {"datum": 5.5, "type": "quantitative", "scale": {"domain": [-1.42857, 6.57143], "reverse": true, "nice": false, "zero": false}},
                      "text": {"field": "n", "type": "quantitative"}}}
      ]
    },
    {
      "width": 788, "height": 339,
      "data": {"values": [{}]},
      "resolve": {"scale": {"x": "independent"}},
      "layer": [
        {"mark": "rule", "encoding": {"x": {"datum": -0.4767, "type": "quantitative", "scale": {"domain": [-0.82697, 3.00628], "nice": false, "zero": false}}}},
        {"mark": "rule", "encoding": {"x": {"datum": 0, "type": "quantitative", "scale": {"domain": [-0.82697, 3.00628], "nice": false, "zero": false}}}},
        {"mark": "rule", "encoding": {"x": {"datum": 1, "type": "quantitative", "scale": {"domain": [-0.82697, 3.00628], "nice": false, "zero": false}}}},
        {"mark": "rule", "encoding": {"x": {"datum": 2, "type": "quantitative", "scale": {"domain": [-0.82697, 3.00628], "nice": false, "zero": false}}}},
        {"mark": "rule", "encoding": {"x": {"datum": 3, "type": "quantitative", "scale": {"domain": [-0.82697, 3.00628], "nice": false, "zero": false}}}},
        {"mark": "rule",
         "encoding": {"x": {"datum": -0.4767, "type": "quantitative", "scale": {"domain": [-0.82697, 3.00628], "nice": false, "zero": false}},
                      "x2": {"datum": 3},
                      "y": {"datum": -1.57143, "type": "quantitative", "scale": {"domain": [-1.57143, 10.53571], "reverse": true, "nice": false, "zero": false}}}},
        {"mark": "rule",
         "encoding": {"x": {"datum": -0.4767, "type": "quantitative", "scale": {"domain": [-0.82697, 3.00628], "nice": false, "zero": false}},
                      "x2": {"datum": 3},
                      "y": {"datum": 10.53571, "type": "quantitative", "scale": {"domain": [-1.57143, 10.53571], "reverse": true, "nice": false, "zero": false}}}},
        {"mark": {"type": "text", "angle": 270, "align": "center", "baseline": "top", "fontSize": 24, "lineHeight": 28},
         "encoding": {"x": {"datum": -0.3867, "type": "quantitative", "scale": {"domain": [-0.82697, 3.00628], "nice": false, "zero": false}},
                      "text": {"value": "Multiple or not specified"}}},
        {"data": {"name": "dots"},
         "transform": [{"filter": {"field": "stage", "equal": "Multiple or not specified"}}],
         "mark": {"type": "circle", "size": 580, "opacity": 1},
         "encoding": {"x": {"field": "target", "type": "nominal", "scale": {"type": "band", "domain": ["Patients", "Family", "Health-care provider"], "paddingInner": 0, "paddingOuter": 0.41665, "align": 0.99241}},
                      "xOffset": {"field": "col", "type": "quantitative", "scale": {"domain": [-3.77, 3.97], "nice": false, "zero": false}},
                      "y": {"field": "row", "type": "quantitative", "scale": {"domain": [-1.57143, 10.53571], "reverse": true, "nice": false, "zero": false}},
                      "color": {"field": "target", "type": "nominal", "scale": {"domain": ["Patients", "Family", "Health-care provider"], "range": ["#00a0c6", "#6db33f", "#b0063a"]}, "legend": null}}},
        {"data": {"name": "counts"},
         "transform": [{"filter": {"field": "stage", "equal": "Multiple or not specified"}}],
         "mark": {"type": "text", "align": "center", "baseline": "middle", "fontSize": 23},
         "encoding": {"x": {"field": "target", "type": "nominal", "scale": {"type": "band", "domain": ["Patients", "Family", "Health-care provider"], "paddingInner": 0, "paddingOuter": 0.41665, "align": 0.99241}},
                      "y": {"datum": 9.46429, "type": "quantitative", "scale": {"domain": [-1.57143, 10.53571], "reverse": true, "nice": false, "zero": false}},
                      "text": {"field": "n", "type": "quantitative"}}}
      ]
    }
  ]
}
